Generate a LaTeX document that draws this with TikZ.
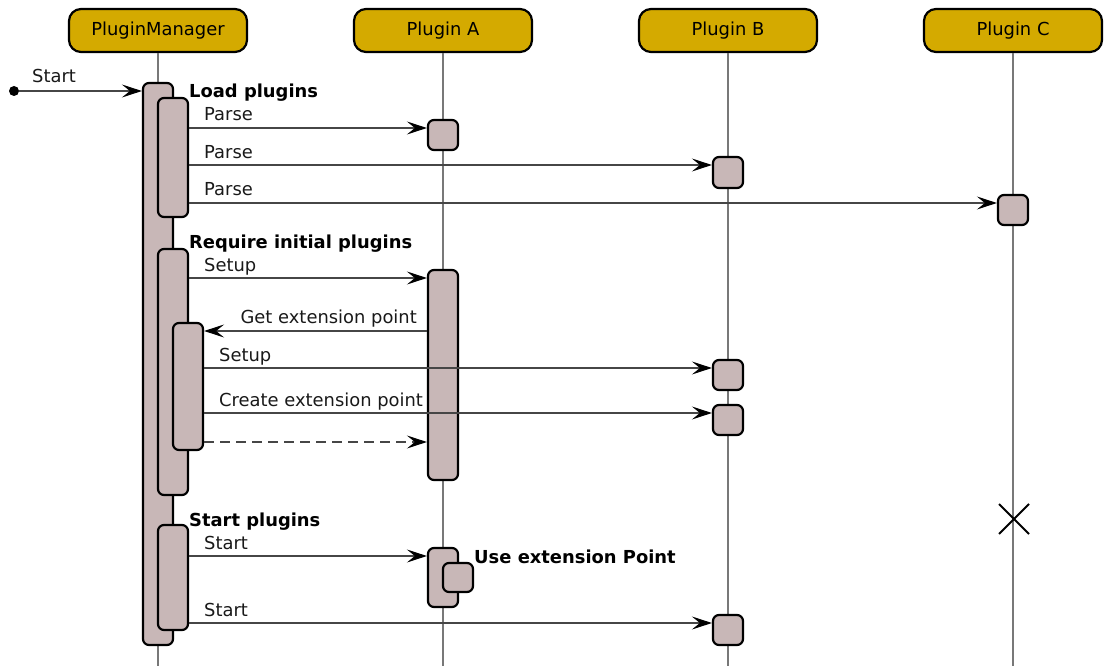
\documentclass[tikz,border=0pt]{standalone}
\usepackage{fontspec}
\setmainfont{DejaVu Sans}
\usetikzlibrary{arrows.meta,fit}
\definecolor{hdr}{RGB}{212,170,0}
\definecolor{actc}{RGB}{200,183,183}
\definecolor{lifec}{RGB}{120,120,120}
\definecolor{msgc}{RGB}{70,70,70}
\begin{document}
\begin{tikzpicture}[x=1pt,y=-1pt,
 font=\fontsize{17.9}{20}\selectfont,
 head/.style={draw=black, line width=2.2pt, fill=hdr, rounded corners=12pt, minimum width=178pt, minimum height=43pt, inner sep=0pt},
 life/.style={draw=lifec, line width=1.3pt},
 act/.style={draw=black, line width=2.2pt, fill=actc, rounded corners=6pt, inner sep=0pt},
 msg/.style={draw=msgc, line width=1.1pt, -{Stealth[length=20pt,width=13pt,inset=8pt,black]}},
 lbl/.style={anchor=base west, inner sep=0pt, text=black!90},
 bl/.style={lbl, font=\fontsize{17.9}{20}\selectfont\bfseries, text=black}]
\useasboundingbox (0,0) rectangle (1104,666);
\coordinate (bot) at (0,666);
% headers
\node[head] (pm) at (158,30.5) {PluginManager};
\node[head] (pa) at (443,30.5) {Plugin A};
\node[head] (pb) at (728,30.5) {Plugin B};
\node[head] (pc) at (1013,30.5) {Plugin C};
% lifelines
\draw[life] (pm.south) -- (pm.south |- bot);
\draw[life] (pa.south) -- (pa.south |- bot);
\draw[life] (pb.south) -- (pb.south |- bot);
\draw[life] (pc.south) -- (pc.south |- bot);
% activations
\node[act, fit={(143,83) (173,645)}] (main) {};
\node[act, fit={(158,98) (188,217)}] (load) {};
\node[act, fit={(158,249) (188,495)}] (req) {};
\node[act, fit={(173,323) (203,450)}] (ext) {};
\node[act, fit={(158,525) (188,630)}] (strt) {};
\node[act, fit={(428,120) (458,150)}] (aparse) {};
\node[act, fit={(428,270) (458,480)}] (asetup) {};
\node[act, fit={(428,548) (458,607)}] (astart) {};
\node[act, fit={(443,563) (473,592)}] (ause) {};
\node[act, fit={(713,157) (743,188)}] (bparse) {};
\node[act, fit={(713,360) (743,390)}] (bsetup) {};
\node[act, fit={(713,405) (743,435)}] (bcreate) {};
\node[act, fit={(713,615) (743,645)}] (bstart) {};
\node[act, fit={(998,195) (1028,225)}] (cparse) {};
% destruction
\coordinate (cx) at (1014,519);
\draw[line width=2pt] ([shift={(-15,-15)}]cx) -- ([shift={(15,15)}]cx);
\draw[line width=2pt] ([shift={(-15,15)}]cx) -- ([shift={(15,-15)}]cx);
% message heights
\coordinate (y1) at (0,128);
\coordinate (y2) at (0,165);
\coordinate (y3) at (0,203);
\coordinate (y4) at (0,278);
\coordinate (y5) at (0,331);
\coordinate (y6) at (0,368);
\coordinate (y7) at (0,413);
\coordinate (y8) at (0,442);
\coordinate (y9) at (0,556);
\coordinate (y10) at (0,623);
% start
\node[circle, fill=black, inner sep=0pt, minimum size=10pt] (init) at (14,91) {};
\draw[msg] (init) -- (main.west |- init);
\node[lbl] (tstart) at (32,83) {Start};
% messages
\draw[msg] (load.east |- y1) -- (aparse.west |- y1);
\draw[msg] (load.east |- y2) -- (bparse.west |- y2);
\draw[msg] (load.east |- y3) -- (cparse.west |- y3);
\draw[msg] (req.east |- y4) -- (asetup.west |- y4);
\draw[msg] (asetup.west |- y5) -- (ext.east |- y5);
\draw[msg] (ext.east |- y6) -- (bsetup.west |- y6);
\draw[msg] (ext.east |- y7) -- (bcreate.west |- y7);
\draw[msg, dash pattern=on 10pt off 6pt] (ext.east |- y8) -- (asetup.west |- y8);
\draw[msg] (strt.east |- y9) -- (astart.west |- y9);
\draw[msg] (strt.east |- y10) -- (bstart.west |- y10);
% labels
\node[bl] (tload) at (189,98) {Load plugins};
\node[lbl] (tp1) at (204,121) {Parse};
\node[lbl] (tp2) at (204,159) {Parse};
\node[lbl] (tp3) at (204,196) {Parse};
\node[bl] (treq) at (189,248) {Require initial plugins};
\node[lbl] (ts1) at (204,271) {Setup};
\node[lbl, anchor=base east] (tget) at (417,323) {Get extension point};
\node[lbl] (ts2) at (219,361) {Setup};
\node[lbl] (tcreate) at (219,406) {Create extension point};
\node[bl] (tsp) at (189,526) {Start plugins};
\node[lbl] (tst1) at (204,549) {Start};
\node[bl] (tuse) at (474,563) {Use extension Point};
\node[lbl] (tst2) at (204,616) {Start};
\end{tikzpicture}
\end{document}
